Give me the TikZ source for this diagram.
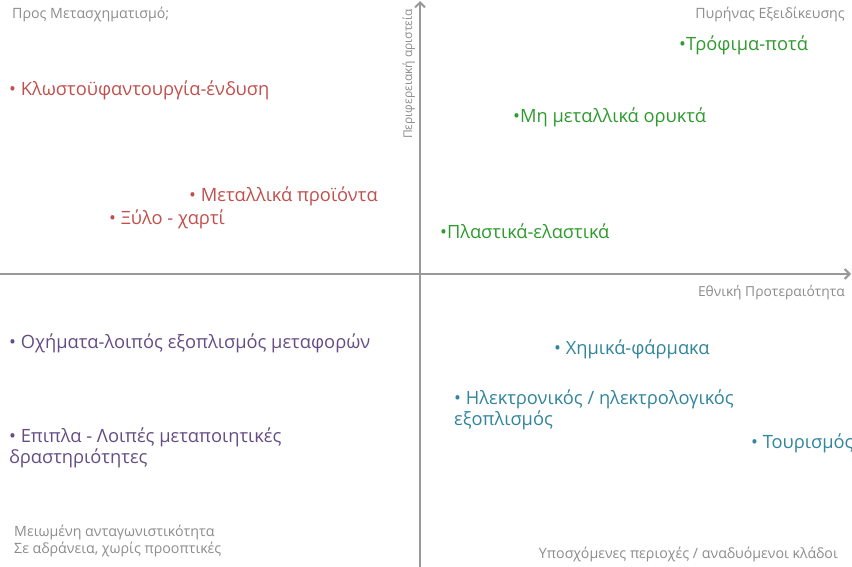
\documentclass[tikz,border=0pt]{standalone}
\usepackage{fontspec}
\setmainfont{Open Sans}
\usetikzlibrary{arrows.meta}
\definecolor{axisgray}{HTML}{999999}
\definecolor{lblgray}{HTML}{8C8C8C}
\definecolor{cred}{HTML}{C0504D}
\definecolor{cgreen}{HTML}{2E9B2E}
\definecolor{cpurple}{HTML}{654C85}
\definecolor{cteal}{HTML}{31859C}
\begin{document}
\begin{tikzpicture}[x=1pt,y=-1pt,
  axis/.style={draw=axisgray,line width=2.6pt,-{Straight Barb[length=5pt,width=10pt,line width=2pt]}},
  lbl/.style={text=lblgray,font=\fontsize{14.2}{17}\selectfont,inner sep=0pt},
  item/.style={font=\fontsize{18.3}{21}\selectfont,inner sep=0pt,anchor=base west,align=left},
  ired/.style={item,text=cred},
  igreen/.style={item,text=cgreen},
  ipurple/.style={item,text=cpurple},
  iteal/.style={item,text=cteal}]
\useasboundingbox (0,0) rectangle (852,567);
\coordinate (xs) at (0,274);
\coordinate (xe) at (851,274);
\coordinate (ys) at (420,567);
\coordinate (ye) at (420,1);
\draw[axis] (xs) -- (xe);
\draw[axis] (ys) -- (ye);
% corner labels
\node[lbl,anchor=base west] (tl) at (12,19) {Προς Μετασχηματισμό;};
\node[lbl,anchor=base east] (tr) at (845,19) {Πυρήνας Εξειδίκευσης};
\node[lbl,anchor=base,rotate=90,font=\fontsize{12}{14}\selectfont] (ylab) at (412,74) {Περιφερειακή αριστεία};
\node[lbl,anchor=base east,font=\fontsize{13.8}{17}\selectfont] (xlab) at (845,296) {Εθνική Προτεραιότητα};
\node[lbl,anchor=base west,align=left] (bl) at (14,553) {Μειωμένη ανταγωνιστικότητα\\Σε αδράνεια, χωρίς προοπτικές};
\node[lbl,anchor=base east] (br) at (838,558) {Υποσχόμενες περιοχές / αναδυόμενοι κλάδοι};
% red
\node[ired] (r1) at (9,96) {• Κλωστοϋφαντουργία-ένδυση};
\node[ired] (r2) at (189,201) {• Μεταλλικά προϊόντα};
\node[ired] (r3) at (109,225) {• Ξύλο - χαρτί};
% green
\node[igreen] (g1) at (679,51) {•Τρόφιμα-ποτά};
\node[igreen] (g2) at (513,123) {•Μη μεταλλικά ορυκτά};
\node[igreen] (g3) at (440,238) {•Πλαστικά-ελαστικά};
% purple
\node[ipurple] (p1) at (9,348) {• Οχήματα-λοιπός εξοπλισμός μεταφορών};
\node[ipurple] (p2) at (9,463) {• Επιπλα - Λοιπές μεταποιητικές\\δραστηριότητες};
% teal
\node[iteal] (t1) at (554,354) {• Χημικά-φάρμακα};
\node[iteal] (t2) at (454,425) {• Ηλεκτρονικός / ηλεκτρολογικός\\εξοπλισμός};
\node[iteal] (t3) at (751,448) {• Τουρισμός};
\end{tikzpicture}
\end{document}
